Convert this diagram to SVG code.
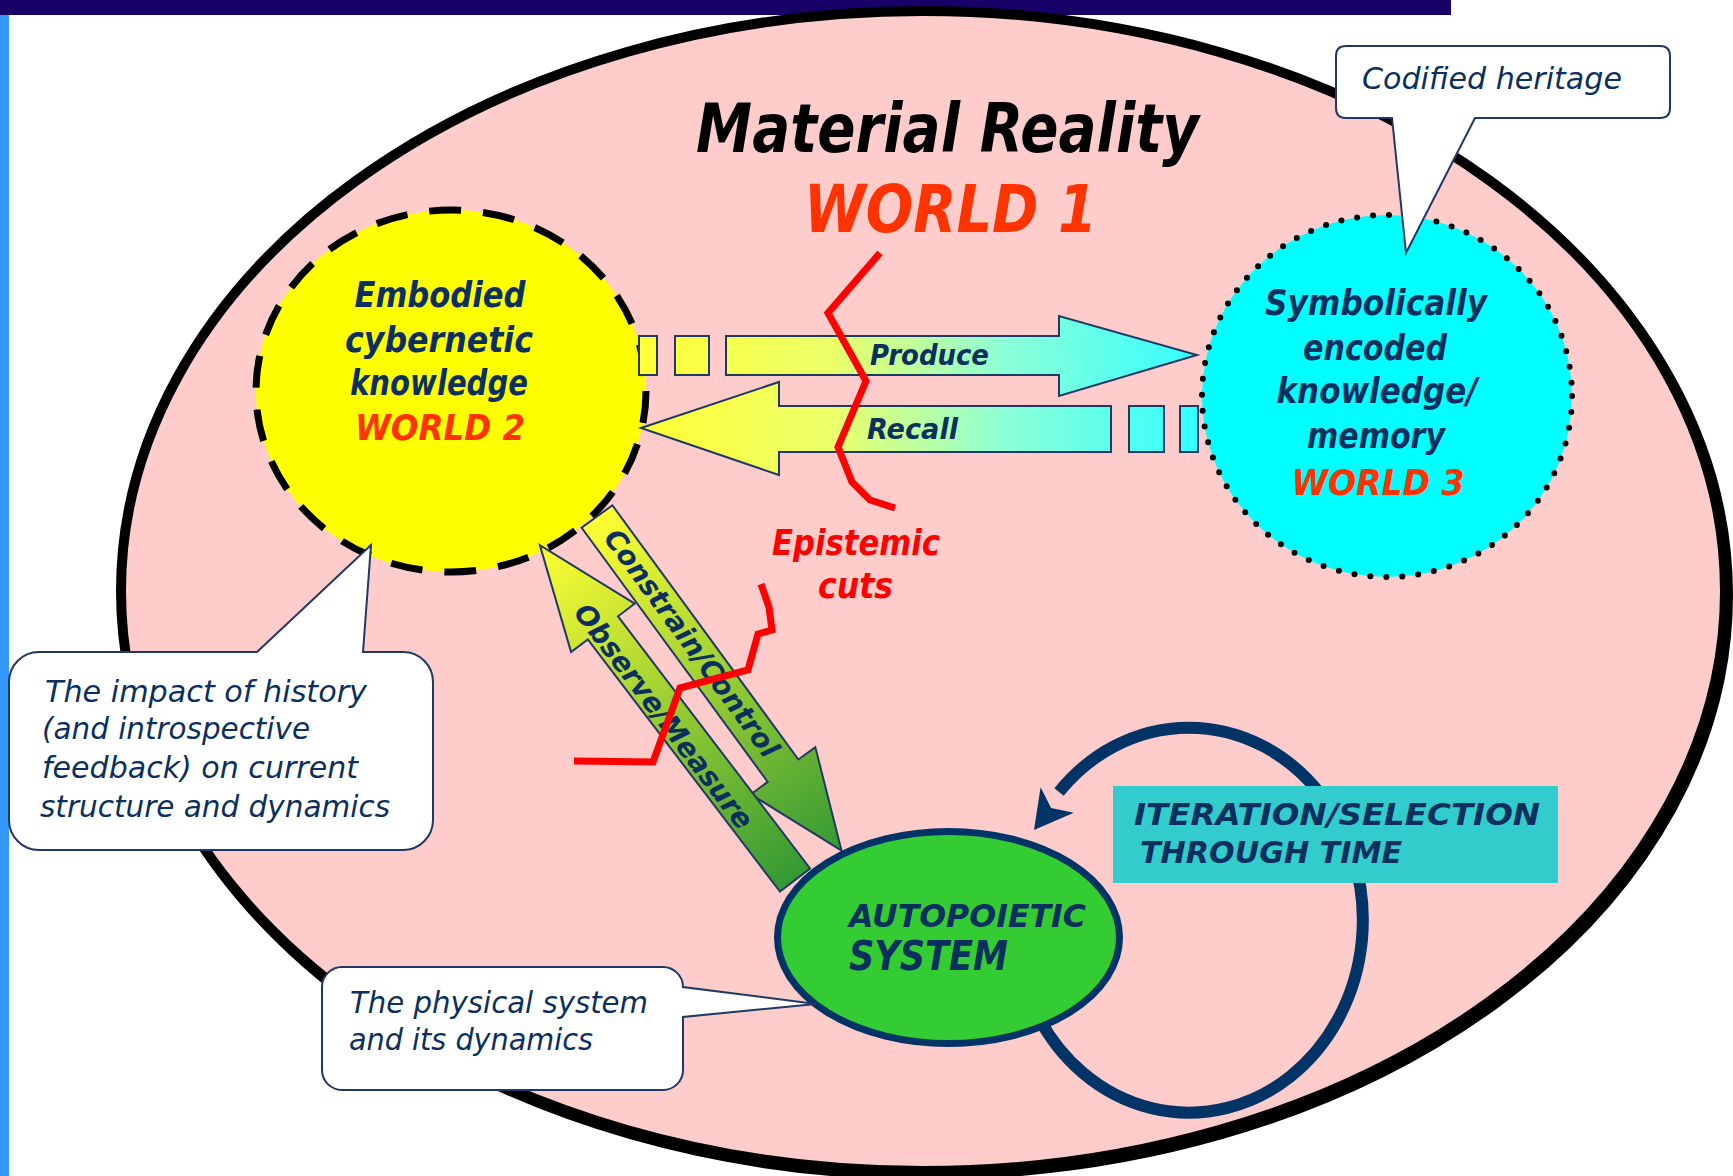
<svg xmlns="http://www.w3.org/2000/svg" width="1733" height="1176" viewBox="0 0 1733 1176">
<style>
.t{font-family:"DejaVu Sans","Liberation Sans",sans-serif;font-style:italic;font-weight:bold;fill:#0b2f5e}
.n{font-weight:normal}
.w{fill:#ff3300}
.r{fill:#ff0000}
.blk{fill:#000}
.call{fill:#fff;stroke:#1f3864;stroke-width:2}
.arr{stroke:#1f3864;stroke-width:2}
.cut{fill:none;stroke:#ff0000;stroke-width:7;stroke-linejoin:miter}
</style>
<defs>
<linearGradient id="gPR" gradientUnits="userSpaceOnUse" x1="640" y1="0" x2="1198" y2="0">
<stop offset="0" stop-color="#ffff33"/>
<stop offset="0.35" stop-color="#eaff6a"/>
<stop offset="0.65" stop-color="#8effd6"/>
<stop offset="1" stop-color="#33ffff"/>
</linearGradient>
<linearGradient id="gDown" x1="0" y1="0" x2="1" y2="0">
<stop offset="0" stop-color="#ffff33"/>
<stop offset="1" stop-color="#339933"/>
</linearGradient>
<linearGradient id="gUp" x1="0" y1="0" x2="1" y2="0">
<stop offset="0" stop-color="#339933"/>
<stop offset="1" stop-color="#ffff33"/>
</linearGradient>
</defs>
<rect width="1733" height="1176" fill="#fff"/>
<rect x="0" y="0" width="1451" height="15" fill="#170066"/>
<rect x="0" y="15" width="9" height="1161" fill="#3399ff"/>

<g id="world1">
<ellipse cx="926" cy="595" rx="802" ry="580" fill="none" stroke="#000" stroke-width="10"/>
<ellipse cx="923" cy="591" rx="802" ry="580" fill="#ffcccc" stroke="#000" stroke-width="10"/>
<text class="t blk" x="696" y="152" font-size="68" textLength="503" lengthAdjust="spacingAndGlyphs">Material Reality</text>
<text class="t w" x="804" y="232" font-size="66" textLength="293" lengthAdjust="spacingAndGlyphs">WORLD 1</text>
</g>

<g id="world2">
<ellipse cx="451" cy="391" rx="195" ry="181" fill="#ffff00" stroke="#000" stroke-width="7" stroke-dasharray="32 22"/>
<text class="t" x="440" y="307" font-size="36" text-anchor="middle" textLength="171" lengthAdjust="spacingAndGlyphs">Embodied</text>
<text class="t" x="439" y="352" font-size="36" text-anchor="middle" textLength="188" lengthAdjust="spacingAndGlyphs">cybernetic</text>
<text class="t" x="439" y="395" font-size="36" text-anchor="middle" textLength="178" lengthAdjust="spacingAndGlyphs">knowledge</text>
<text class="t w" x="440" y="440" font-size="36" text-anchor="middle" textLength="170" lengthAdjust="spacingAndGlyphs">WORLD 2</text>
</g>

<g id="world3">
<ellipse cx="1387" cy="396" rx="185" ry="181" fill="#00ffff" stroke="#000" stroke-width="6" stroke-dasharray="0 16" stroke-linecap="round"/>
<text class="t" x="1376" y="315" font-size="35" text-anchor="middle" textLength="222" lengthAdjust="spacingAndGlyphs">Symbolically</text>
<text class="t" x="1375" y="360" font-size="35" text-anchor="middle" textLength="144" lengthAdjust="spacingAndGlyphs">encoded</text>
<text class="t" x="1377" y="403" font-size="35" text-anchor="middle" textLength="201" lengthAdjust="spacingAndGlyphs">knowledge/</text>
<text class="t" x="1376" y="448" font-size="35" text-anchor="middle" textLength="138" lengthAdjust="spacingAndGlyphs">memory</text>
<text class="t w" x="1378" y="495" font-size="35" text-anchor="middle" textLength="173" lengthAdjust="spacingAndGlyphs">WORLD 3</text>
</g>

<g id="connectors">
<g id="iteration-loop">
<path d="M1037.3,1014.8 A174,192.5 0 1 0 1059,792" fill="none" stroke="#003366" stroke-width="12"/>
<polygon points="1034,830 1040.6,787.2 1051.1,807.9 1073.8,812.8" fill="#003366"/>
</g>
<g id="produce">
<rect x="639" y="336" width="18" height="39" fill="url(#gPR)" class="arr"/>
<rect x="675" y="336" width="34" height="39" fill="url(#gPR)" class="arr"/>
<path d="M726,336 H1059 V316 L1197,355 L1059,396 V375 H726 Z" fill="url(#gPR)" class="arr"/>
<text class="t" x="870" y="365" font-size="28" textLength="119" lengthAdjust="spacingAndGlyphs">Produce</text>
</g>
<g id="recall">
<path d="M641,428 L779,382 V406 H1111 V452 H779 V475 Z" fill="url(#gPR)" class="arr"/>
<rect x="1129" y="406" width="35" height="46" fill="url(#gPR)" class="arr"/>
<rect x="1180" y="406" width="18" height="46" fill="url(#gPR)" class="arr"/>
<text class="t" x="867" y="439" font-size="28" textLength="91" lengthAdjust="spacingAndGlyphs">Recall</text>
</g>
<g id="constrain">
<path transform="translate(597,516.5) rotate(53.8)" d="M0,-19 H315 V-40 L414,0 L315,40 V19 H0 Z" fill="url(#gDown)" class="arr"/>
<text class="t" transform="translate(692,643) rotate(53.8)" x="0" y="10" font-size="28" text-anchor="middle" textLength="275" lengthAdjust="spacingAndGlyphs">Constrain/Control</text>
</g>
<g id="observe">
<path transform="translate(795,880) rotate(232.7)" d="M0,-19 H317 V-40 L421,0 L317,40 V19 H0 Z" fill="url(#gUp)" class="arr"/>
<text class="t" transform="translate(664,716) rotate(52.7)" x="0" y="10" font-size="28" text-anchor="middle" textLength="275" lengthAdjust="spacingAndGlyphs">Observe/Measure</text>
</g>
</g>

<g id="autopoietic">
<ellipse cx="948.5" cy="937.5" rx="171" ry="106" fill="#33cc33" stroke="#003366" stroke-width="7"/>
<text class="t" x="849" y="927" font-size="32" textLength="237" lengthAdjust="spacingAndGlyphs">AUTOPOIETIC</text>
<text class="t" x="849" y="970" font-size="40" textLength="159" lengthAdjust="spacingAndGlyphs">SYSTEM</text>
</g>

<g id="iteration">
<rect x="1113" y="786" width="445" height="97" fill="#33cccc"/>
<text class="t" x="1134" y="825" font-size="30" textLength="406" lengthAdjust="spacingAndGlyphs">ITERATION/SELECTION</text>
<text class="t" x="1140" y="863" font-size="30" textLength="262" lengthAdjust="spacingAndGlyphs">THROUGH TIME</text>
</g>

<g id="epistemic-cuts">
<polyline class="cut" points="880,253 828,313 866,381 838,447 852,482 870,500 895,508"/>
<polyline class="cut" points="761,584 769,607 772,630 758,634 748,670 680,688 653,762 574,761"/>
<text class="t r" x="772" y="555" font-size="35" textLength="168" lengthAdjust="spacingAndGlyphs">Epistemic</text>
<text class="t r" x="818" y="598" font-size="35" textLength="75" lengthAdjust="spacingAndGlyphs">cuts</text>
</g>

<g id="callout-codified">
<path class="call" d="M1346,46 H1660 Q1670,46 1670,56 V108 Q1670,118 1660,118 H1475 L1406,253 L1392,118 H1346 Q1336,118 1336,108 V56 Q1336,46 1346,46 Z"/>
<text class="t n" x="1362" y="89" font-size="30" textLength="260" lengthAdjust="spacingAndGlyphs">Codified heritage</text>
</g>

<g id="callout-history">
<path class="call" d="M39,652 H257 L371,545 L363,652 H403 A30,30 0 0 1 433,682 V820 A30,30 0 0 1 403,850 H39 A30,30 0 0 1 9,820 V682 A30,30 0 0 1 39,652 Z"/>
<text class="t n" x="45" y="702" font-size="31" textLength="322" lengthAdjust="spacingAndGlyphs">The impact of history</text>
<text class="t n" x="42" y="739" font-size="31" textLength="268" lengthAdjust="spacingAndGlyphs">(and introspective</text>
<text class="t n" x="42" y="778" font-size="31" textLength="316" lengthAdjust="spacingAndGlyphs">feedback) on current</text>
<text class="t n" x="40" y="817" font-size="31" textLength="350" lengthAdjust="spacingAndGlyphs">structure and dynamics</text>
</g>

<g id="callout-physical">
<path class="call" d="M342,967 H663 A20,20 0 0 1 683,987 L816,1004 L683,1017 V1070 A20,20 0 0 1 663,1090 H342 A20,20 0 0 1 322,1070 V987 A20,20 0 0 1 342,967 Z"/>
<text class="t n" x="350" y="1013" font-size="31" textLength="298" lengthAdjust="spacingAndGlyphs">The physical system</text>
<text class="t n" x="349" y="1050" font-size="31" textLength="244" lengthAdjust="spacingAndGlyphs">and its dynamics</text>
</g>
</svg>
